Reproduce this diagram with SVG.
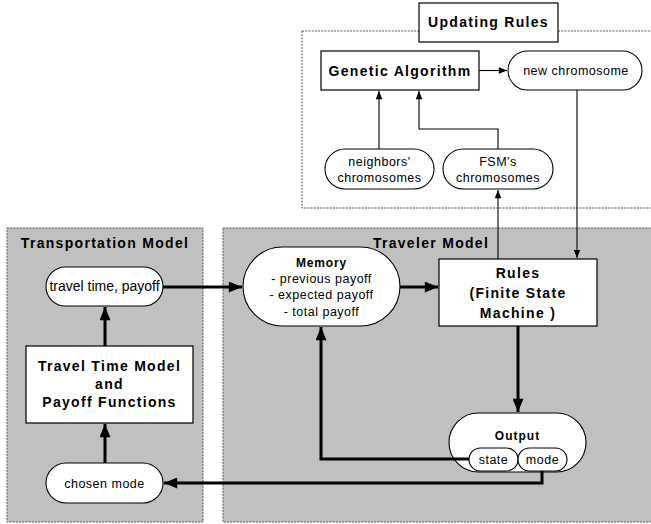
<svg xmlns="http://www.w3.org/2000/svg" width="651" height="524" viewBox="0 0 651 524">
  <defs>
    <marker id="ahThin" viewBox="0 0 10 8" refX="10" refY="4" markerWidth="9" markerHeight="6.5" markerUnits="userSpaceOnUse" orient="auto">
      <path d="M0,0 L10,4 L0,8 z" fill="#000"/>
    </marker>
    <marker id="ahThick" viewBox="0 0 12 10" refX="12" refY="5" markerWidth="16" markerHeight="11" markerUnits="userSpaceOnUse" orient="auto">
      <path d="M0,0 L12,5 L0,10 z" fill="#000"/>
    </marker>
    <style>
      .zone { fill: #c0c0c0; stroke: #555; stroke-width: 1; stroke-dasharray: 2 1.2; }
      .zoneOpen { fill: #fff; stroke: #555; stroke-width: 1; stroke-dasharray: 2 1.2; }
      .box { fill: #fff; stroke: #000; stroke-width: 1.2; }
      .pill { fill: #fff; stroke: #000; stroke-width: 1.1; }
      .title { font-family: "Liberation Sans", Arial, sans-serif; font-weight: bold; font-size: 14px; letter-spacing: 1.3px; text-anchor: middle; fill: #000; }
      .label { font-family: "Liberation Sans", Arial, sans-serif; font-size: 12.5px; letter-spacing: 0.5px; text-anchor: middle; fill: #000; }
      .thin { fill: none; stroke: #000; stroke-width: 1.1; }
      .thick { fill: none; stroke: #000; stroke-width: 3; }
    </style>
  </defs>

  <rect width="651" height="524" fill="#fff"/>

  <!-- model zones -->
  <g id="updating-rules">
    <rect class="zoneOpen" x="302" y="31" width="360" height="177"/>
    <rect class="box" x="419" y="3" width="139" height="39"/>
    <text class="title" x="488.5" y="27">Updating Rules</text>
  </g>
  <g id="transportation-model">
    <rect class="zone" x="7" y="228" width="196" height="294"/>
    <text class="title" x="105" y="248">Transportation Model</text>
  </g>
  <g id="traveler-model">
    <rect class="zone" x="223" y="228" width="440" height="294"/>
    <text class="title" x="431" y="248">Traveler Model</text>
  </g>

  <!-- nodes -->
  <g id="genetic-algorithm">
    <rect class="box" x="321" y="51" width="158" height="39"/>
    <text class="title" x="400" y="76">Genetic Algorithm</text>
  </g>
  <g id="new-chromosome">
    <rect class="pill" x="508" y="51" width="134" height="39" rx="19.5"/>
    <text class="label" x="576" y="75">new chromosome</text>
  </g>
  <g id="neighbors-chromosomes">
    <rect class="pill" x="325" y="149" width="109" height="40" rx="20"/>
    <text class="label" x="379.5" y="166">neighbors'</text>
    <text class="label" x="379.5" y="182">chromosomes</text>
  </g>
  <g id="fsm-chromosomes">
    <rect class="pill" x="443" y="149" width="110" height="40" rx="20"/>
    <text class="label" x="498" y="166">FSM's</text>
    <text class="label" x="498" y="182">chromosomes</text>
  </g>
  <g id="travel-time-payoff">
    <rect class="pill" x="46" y="267" width="117" height="39" rx="19.5"/>
    <text class="label" x="104.5" y="291" style="font-size:14px;letter-spacing:0">travel time, payoff</text>
  </g>
  <g id="travel-time-model">
    <rect class="box" x="26" y="346" width="167" height="77"/>
    <text class="title" x="109.5" y="371">Travel Time Model</text>
    <text class="title" x="109.5" y="389">and</text>
    <text class="title" x="109.5" y="407">Payoff Functions</text>
  </g>
  <g id="chosen-mode">
    <rect class="pill" x="46" y="463" width="117" height="40" rx="20"/>
    <text class="label" x="104.5" y="487.5">chosen mode</text>
  </g>
  <g id="memory">
    <rect class="pill" x="243" y="247" width="157" height="79" rx="39.5"/>
    <text class="title" x="321.5" y="267" style="font-size:12px;letter-spacing:0.8px">Memory</text>
    <text class="label" x="321.5" y="282.5">- previous payoff</text>
    <text class="label" x="321.5" y="299">- expected payoff</text>
    <text class="label" x="321.5" y="315.5">- total payoff</text>
  </g>
  <g id="rules">
    <rect class="box" x="439" y="259" width="158" height="67"/>
    <text class="title" x="518" y="278">Rules</text>
    <text class="title" x="518" y="298">(Finite State</text>
    <text class="title" x="518" y="318">Machine )</text>
  </g>
  <g id="output">
    <rect class="pill" x="449" y="413" width="137" height="59" rx="29.5"/>
    <text class="title" x="517.5" y="439.5" style="font-size:12px;letter-spacing:1px">Output</text>
    <rect class="pill" x="469" y="448" width="49" height="23" rx="11.5"/>
    <text class="label" x="493.5" y="464">state</text>
    <rect class="pill" x="518" y="448" width="49" height="23" rx="11.5"/>
    <text class="label" x="542.5" y="464">mode</text>
  </g>

  <!-- connectors -->
  <g id="connectors">
    <path class="thin" d="M479,70.5 H507" marker-end="url(#ahThin)"/>
    <path class="thin" d="M379,149 V91" marker-end="url(#ahThin)"/>
    <path class="thin" d="M498,149 V129 H419 V91" marker-end="url(#ahThin)"/>
    <path class="thin" d="M498,259 V190" marker-end="url(#ahThin)"/>
    <path class="thin" d="M577,90 V258" marker-end="url(#ahThin)"/>
    <path class="thick" d="M163,287 H242" marker-end="url(#ahThick)"/>
    <path class="thick" d="M400,287 H438" marker-end="url(#ahThick)"/>
    <path class="thick" d="M105,346 V307" marker-end="url(#ahThick)"/>
    <path class="thick" d="M105,463 V424" marker-end="url(#ahThick)"/>
    <path class="thick" d="M518,326 V412" marker-end="url(#ahThick)"/>
    <path class="thick" d="M469,459 H321 V327" marker-end="url(#ahThick)"/>
    <path class="thick" d="M542,471 V483 H164" marker-end="url(#ahThick)"/>
  </g>
</svg>
